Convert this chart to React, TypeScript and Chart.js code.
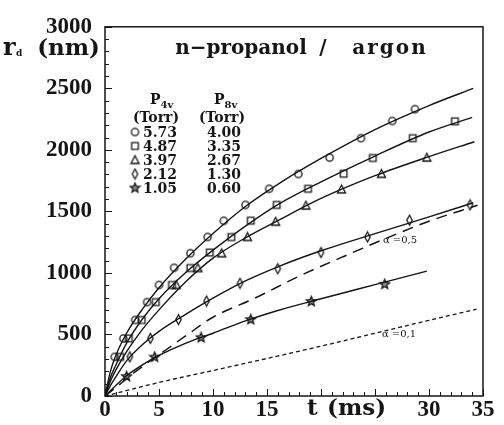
import React, { useEffect, useRef } from 'react';
import { Chart, registerables } from 'chart.js';
Chart.register(...registerables);

// ---------- axes ----------
const X_MIN = 0;
const X_MAX = 35;
const Y_MIN = 0;
const Y_MAX = 3000;
const xMajorStep = 5;
const xMinorStep = 1;
const yMajorStep = 500;
const yMinorStep = 100;
const xLabeledTicks = [0, 5, 10, 15, 30, 35];

// ---------- measured points (t in ms, r_d in nm) ----------
const circleT = [0.9, 1.7, 2.8, 3.9, 5.0, 6.4, 7.9, 9.5, 11.0, 13.0, 15.2, 17.9, 20.8, 23.7, 26.6, 28.7];
const circleR = [318, 468, 618, 763, 902, 1042, 1160, 1292, 1424, 1553, 1684, 1804, 1937, 2095, 2235, 2331];
const squareT = [1.4, 2.2, 3.4, 4.7, 6.2, 7.9, 9.7, 11.7, 13.5, 15.9, 18.8, 22.1, 24.8, 28.5, 32.4];
const squareR = [318, 468, 618, 763, 902, 1040, 1166, 1291, 1425, 1553, 1684, 1806, 1934, 2095, 2232];
const triangleT = [6.6, 8.6, 10.8, 13.2, 15.8, 18.6, 21.9, 25.6, 29.8];
const triangleR = [902, 1040, 1160, 1292, 1416, 1547, 1679, 1805, 1937];
const diamondT = [2.3, 4.2, 6.8, 9.4, 12.5, 16.0, 20.0, 24.3, 28.2, 33.8];
const diamondR = [318, 468, 621, 771, 916, 1034, 1166, 1292, 1429, 1553];
const starT = [2.0, 4.6, 8.9, 13.5, 19.1, 25.9];
const starR = [158, 316, 474, 621, 768, 908];

// ---------- fitted curves ----------
const fitCircleT = [0, 0.5, 1, 2, 3.5, 5, 7.5, 10, 13, 16, 20, 25, 30, 34.1];
const fitCircleR = [0, 200, 330, 510, 710, 880, 1115, 1320, 1540, 1720, 1930, 2165, 2360, 2500];
const fitSquareT = [0, 0.5, 1, 2, 3.5, 5, 7.5, 10, 13, 16, 20, 25, 30, 34];
const fitSquareR = [0, 150, 250, 430, 630, 790, 1005, 1185, 1380, 1555, 1740, 1950, 2145, 2264];
const fitTriangleT = [0, 0.5, 1, 2, 3.5, 5, 7.5, 10, 13, 16, 20, 25, 30, 34.2];
const fitTriangleR = [0, 120, 210, 360, 545, 700, 930, 1120, 1285, 1425, 1605, 1790, 1945, 2066];
const fitDiamondT = [0, 0.5, 1, 2, 3.5, 5, 7.5, 10, 13, 16, 20, 25, 30, 34.1];
const fitDiamondR = [0, 85, 155, 285, 420, 525, 665, 795, 935, 1050, 1180, 1320, 1455, 1570];
const fitStarT = [0, 1, 2, 3.5, 5, 7.5, 10, 13, 16, 20, 25, 29.8];
const fitStarR = [0, 85, 165, 255, 330, 430, 510, 610, 695, 790, 905, 1015];
const alpha05T = [0, 1.3, 3, 5, 7.5, 10, 14, 18, 22, 26, 30, 34.5];
const alpha05R = [0, 90, 210, 335, 490, 640, 800, 975, 1130, 1280, 1420, 1550];
const alpha01T = [0, 1, 5, 10, 15, 20, 25, 30, 34.4];
const alpha01R = [0, 22, 110, 207, 305, 405, 510, 615, 705];

// ---------- legend ----------
const legendHeader4 = ['P', '4v'];
const legendHeader8 = ['P', '8v'];
const legendUnit = '(Torr)';
const legendP4 = ['5.73', '4.87', '3.97', '2.12', '1.05'];
const legendP8 = ['4.00', '3.35', '2.67', '1.30', '0.60'];
const legendMarkers = ['circle', 'square', 'triangle', 'diamond', 'star'];
const titleParts = ['n\u2212propanol', '/', 'argon'];
const alphaLabels = ['\u03b1 =0,5', '\u03b1 =0,1'];

const INK = '#151515';

const pts = (xs: number[], ys: number[]) => xs.map((x, i) => ({ x, y: ys[i] }));

function makeMarker(kind: string): HTMLCanvasElement {
  const c = document.createElement('canvas');
  c.width = 13;
  c.height = 13;
  const g = c.getContext('2d')!;
  g.strokeStyle = INK;
  g.lineWidth = 1.3;
  g.beginPath();
  const cx = 6.5, cy = 6.5;
  if (kind === 'circle') {
    g.arc(cx, cy, 3.6, 0, Math.PI * 2);
  } else if (kind === 'square') {
    g.rect(3.2, 3.2, 6.6, 6.6);
  } else if (kind === 'triangle') {
    g.moveTo(cx, 2.2);
    g.lineTo(10.5, 10);
    g.lineTo(2.5, 10);
    g.closePath();
  } else if (kind === 'diamond') {
    g.moveTo(cx, 1.5);
    g.lineTo(9.2, cy);
    g.lineTo(cx, 11.5);
    g.lineTo(3.8, cy);
    g.closePath();
  } else {
    for (let k = 0; k < 10; k++) {
      const rr = k % 2 === 0 ? 5 : 2.2;
      const a = -Math.PI / 2 + (k * Math.PI) / 5;
      const px = cx + rr * Math.cos(a);
      const py = cy + rr * Math.sin(a);
      if (k === 0) g.moveTo(px, py);
      else g.lineTo(px, py);
    }
    g.closePath();
    g.fillStyle = 'rgba(20,20,20,0.5)';
    g.fill();
  }
  g.stroke();
  return c;
}

export default function App() {
  const ref = useRef<HTMLCanvasElement>(null);

  useEffect(() => {
    const canvas = ref.current!;
    const mk: Record<string, HTMLCanvasElement> = {};
    legendMarkers.forEach((k) => (mk[k] = makeMarker(k)));

    const line = (xs: number[], ys: number[], dash: number[] = [], width = 1.4) => ({
      data: pts(xs, ys),
      showLine: true,
      borderColor: INK,
      borderWidth: width,
      borderDash: dash,
      pointRadius: 0,
      cubicInterpolationMode: 'monotone' as const,
      fill: false,
    });
    const marks = (xs: number[], ys: number[], kind: string) => ({
      data: pts(xs, ys),
      showLine: false,
      pointStyle: mk[kind],
      pointRadius: 5,
      borderColor: INK,
      backgroundColor: 'rgba(0,0,0,0)',
    });

    const decor = {
      id: 'decor',
      afterDraw(chart: any) {
        const { ctx, chartArea: a, scales } = chart;
        const x = scales.x, y = scales.y;
        ctx.save();
        ctx.strokeStyle = INK;
        ctx.lineWidth = 1.5;
        ctx.strokeRect(a.left, a.top, a.right - a.left, a.bottom - a.top);
        ctx.lineWidth = 1;
        ctx.beginPath();
        for (let v = X_MIN; v <= X_MAX; v += xMinorStep) {
          const px = Math.round(x.getPixelForValue(v)) + 0.5;
          const len = v % xMajorStep === 0 ? 7 : 4;
          ctx.moveTo(px, a.bottom);
          ctx.lineTo(px, a.bottom - len);
        }
        for (let v = Y_MIN; v <= Y_MAX; v += yMinorStep) {
          const py = Math.round(y.getPixelForValue(v)) + 0.5;
          const len = v % yMajorStep === 0 ? 7 : 4;
          ctx.moveTo(a.left, py);
          ctx.lineTo(a.left + len, py);
        }
        ctx.stroke();

        ctx.fillStyle = INK;
        ctx.textBaseline = 'alphabetic';
        // y-axis title r_d (nm)
        ctx.font = 'bold 24px "DejaVu Serif"';
        ctx.textAlign = 'left';
        ctx.fillText('r', 3, 55);
        ctx.font = 'bold 9px "DejaVu Serif"';
        ctx.fillText('d', 16, 56);
        ctx.font = 'bold 23px "DejaVu Serif"';
        ctx.textAlign = 'right';
        ctx.fillText('(nm)', 100, 55);
        // x-axis title
        ctx.textAlign = 'left';
        ctx.font = 'bold 23px "DejaVu Serif"';
        ctx.fillText('t', 307, 415);
        ctx.fillText('(ms)', 327, 415);

        // title
        ctx.font = 'bold 20px "DejaVu Serif"';
        ctx.textAlign = 'center';
        ctx.fillText(titleParts[0], 241, 54);
        ctx.fillText(titleParts[1], 323, 54);
        (ctx as any).letterSpacing = '2px';
        ctx.fillText(titleParts[2], 390, 54);
        (ctx as any).letterSpacing = '0px';

        // legend
        const hdr = (parts: string[], xl: number) => {
          ctx.textAlign = 'left';
          ctx.font = 'bold 14px "DejaVu Serif"';
          ctx.fillText(parts[0], xl, 104);
          const w = ctx.measureText(parts[0]).width;
          ctx.font = 'bold 10px "DejaVu Serif"';
          ctx.fillText(parts[1], xl + w, 108);
        };
        hdr(legendHeader4, 150);
        hdr(legendHeader8, 214);
        ctx.font = 'bold 14px "DejaVu Serif"';
        ctx.textAlign = 'center';
        ctx.fillText(legendUnit, 156, 122);
        ctx.fillText(legendUnit, 222, 122);
        ctx.textAlign = 'left';
        legendP4.forEach((s, i) => {
          const yy = 132 + i * 14;
          const m = mk[legendMarkers[i]];
          ctx.drawImage(m, 135 - m.width / 2, yy - m.height / 2);
          ctx.fillText(s, 143, yy + 5);
          ctx.fillText(legendP8[i], 207, yy + 5);
        });

        // alpha labels
        ctx.font = '10px "DejaVu Serif"';
        ctx.textAlign = 'center';
        ctx.fillText(alphaLabels[0], 400, 243);
        ctx.fillText(alphaLabels[1], 399, 337);
        ctx.restore();
      },
    };

    const chart = new Chart(canvas, {
      type: 'scatter',
      data: {
        datasets: [
          marks(circleT, circleR, 'circle'),
          marks(squareT, squareR, 'square'),
          marks(triangleT, triangleR, 'triangle'),
          marks(diamondT, diamondR, 'diamond'),
          marks(starT, starR, 'star'),
          line(fitCircleT, fitCircleR),
          line(fitSquareT, fitSquareR),
          line(fitTriangleT, fitTriangleR),
          line(fitDiamondT, fitDiamondR),
          line(fitStarT, fitStarR),
          line(alpha05T, alpha05R, [11, 7], 1.5),
          line(alpha01T, alpha01R, [4, 3], 1.3),
        ] as any,
      },
      options: {
        animation: false,
        responsive: false,
        devicePixelRatio: 1,
        events: [],
        layout: { padding: { top: 16, right: 21, left: 0, bottom: 0 } },
        plugins: { legend: { display: false }, tooltip: { enabled: false }, title: { display: false } },
        scales: {
          x: {
            type: 'linear',
            min: X_MIN,
            max: X_MAX,
            afterFit: (s: any) => { s.height = 29; },
            grid: { display: false, drawTicks: false },
            border: { display: false },
            ticks: {
              stepSize: xMajorStep,
              padding: 0,
              color: INK,
              font: { family: 'Liberation Serif', weight: 'bold', size: 23 },
              callback: (v: any) => (xLabeledTicks.includes(Number(v)) ? String(v) : ''),
              maxRotation: 0,
              autoSkip: false,
            },
          },
          y: {
            type: 'linear',
            min: Y_MIN,
            max: Y_MAX,
            afterFit: (s: any) => { s.width = 105; },
            grid: { display: false, drawTicks: false },
            border: { display: false },
            ticks: {
              stepSize: yMajorStep,
              padding: 13,
              color: INK,
              font: { family: 'Liberation Serif', weight: 'bold', size: 23 },
              callback: (v: any) => String(v),
            },
          },
        },
      } as any,
      plugins: [decor],
    });
    return () => chart.destroy();
  }, []);

  return (
    <div style={{ position: 'absolute', left: 0, top: 0, width: 504, height: 425, background: '#fff' }}>
      <canvas ref={ref} width={504} height={425} style={{ display: 'block' }} />
    </div>
  );
}
